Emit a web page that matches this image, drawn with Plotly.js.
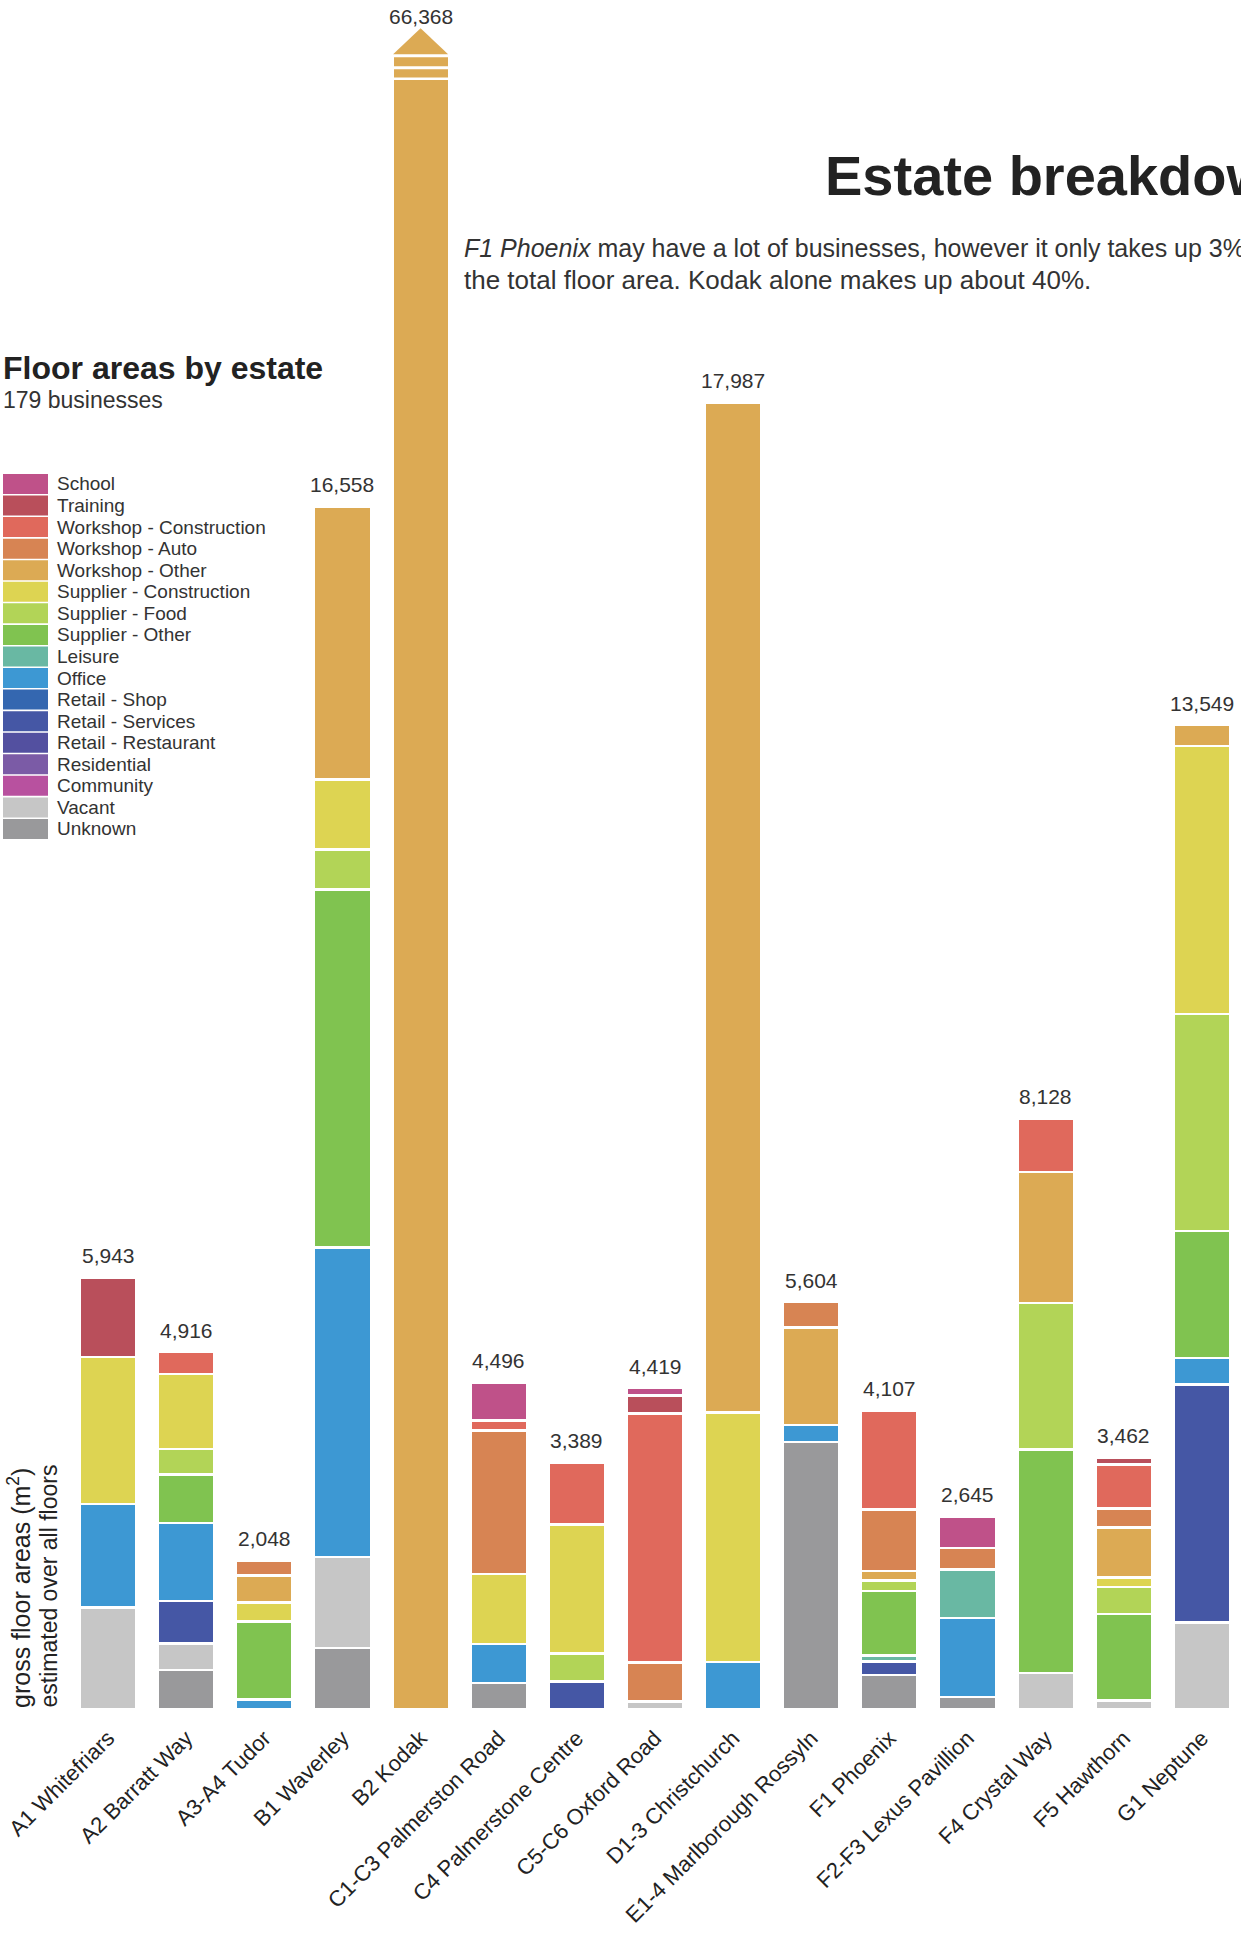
<!DOCTYPE html>
<html>
<head>
<meta charset="utf-8">
<script src="https://cdn.plot.ly/plotly-3.0.1.min.js"></script>
<style>
html,body{margin:0;padding:0;background:#fff;}
#chart{width:1241px;height:1937px;}
</style>
</head>
<body>
<div id="chart"></div>
<script>
// ---------- DATA ----------
const estates = ["A1 Whitefriars","A2 Barratt Way","A3-A4 Tudor","B1 Waverley","B2 Kodak",
  "C1-C3 Palmerston Road","C4 Palmerstone Centre","C5-C6 Oxford Road","D1-3 Christchurch",
  "E1-4 Marlborough Rossyln","F1 Phoenix","F2-F3 Lexus Pavillion","F4 Crystal Way","F5 Hawthorn","G1 Neptune"];

// legend order (top to bottom); stacking order is the reverse
const categories = ["School","Training","Workshop - Construction","Workshop - Auto","Workshop - Other",
  "Supplier - Construction","Supplier - Food","Supplier - Other","Leisure","Office","Retail - Shop",
  "Retail - Services","Retail - Restaurant","Residential","Community","Vacant","Unknown"];

const colors = ["#bf5189","#b94f5b","#e0695c","#d78453","#dcaa54","#ddd452","#b2d457","#80c350",
  "#69b8a3","#3d98d3","#3467b0","#4557a5","#5350a0","#7b5ba6","#b8519f","#c6c6c6","#99999b"];

//                  A1    A2    A3    B1    B2     C1    C4    C5    D1     E1    F1    F2    F4    F5    G1
const school      = [0,    0,    0,    0,    0,     522,  0,    102,  0,     0,    0,    427,  0,    0,    0];
const training    = [1096, 0,    0,    0,    0,     0,    0,    244,  0,     0,    0,    0,    0,    97,   0];
const wsConstr    = [0,    305,  0,    0,    0,     138,  850,  3436, 0,     0,    1361, 0,    733,  608,  0];
const wsAuto      = [0,    0,    210,  0,    0,     1978, 0,    532,  0,     354,  846,  297,  0,    255,  0];
const wsOther     = [0,    0,    372,  3762, 66368, 0,    0,    0,    13905, 1341, 130,  0,    1806, 695,  289];
const supConstr   = [2022, 1030, 257,  963,  0,     964,  1776, 0,    3432,  0,    0,    0,    0,    125,  3687];
const supFood     = [0,    355,  0,    546,  0,     0,    388,  0,    0,     0,    147,  0,    2014, 375,  2992];
const supOther    = [0,    665,  1079, 4928, 0,     0,    0,    0,    0,     0,    888,  0,    3077, 1192, 1747];
const leisure     = [0,    0,    0,    0,    0,     0,    0,    0,    0,     0,    83,   668,  0,    0,    0];
const office      = [1428, 1076, 130,  4267, 0,     534,  0,    0,    650,   231,  0,    1086, 0,    0,    362];
const retShop     = [0,    0,    0,    0,    0,     0,    0,    0,    0,     0,    0,    0,    0,    0,    0];
const retServices = [0,    586,  0,    0,    0,     0,    375,  0,    0,     0,    186,  0,    0,    0,    3284];
const retRestaur  = [0,    0,    0,    0,    0,     0,    0,    0,    0,     0,    0,    0,    0,    0,    0];
const residential = [0,    0,    0,    0,    0,     0,    0,    0,    0,     0,    0,    0,    0,    0,    0];
const community   = [0,    0,    0,    0,    0,     0,    0,    0,    0,     0,    0,    0,    0,    0,    0];
const vacant      = [1397, 360,  0,    1253, 0,     0,    0,    105,  0,     0,    0,    0,    498,  115,  1188];
const unknown     = [0,    539,  0,    839,  0,     360,  0,    0,    0,     3678, 466,  167,  0,    0,    0];

const seriesValues = [school,training,wsConstr,wsAuto,wsOther,supConstr,supFood,supOther,leisure,
  office,retShop,retServices,retRestaur,residential,community,vacant,unknown];

const brokenEstate = "B2 Kodak";

// ---------- LAYOUT GEOMETRY ----------
const FIG_W = 1241, FIG_H = 1937;
const M = {l: 69, r: 0, t: 54, b: 228};
const PW = FIG_W - M.l - M.r, PH = FIG_H - M.t - M.b;
const px2x = p => (p - M.l) / PW;
const px2y = p => (FIG_H - M.b - p) / PH;
const YMAX = 22790;
const FONT = "Liberation Sans, Arial, Helvetica, sans-serif";

// ---------- TRACES (stack bottom -> top) ----------
const traces = [];
for (let k = categories.length - 1; k >= 0; k--) {
  traces.push({
    type: "bar",
    name: categories[k],
    x: estates,
    y: seriesValues[k].map(v => v > 0 ? v : null),
    marker: {color: colors[k], line: {color: "#ffffff", width: 2.6}},
    hoverinfo: "x+y+name",
    showlegend: false
  });
}

const totals = estates.map((e, i) => seriesValues.reduce((s, arr) => s + arr[i], 0));
const fmt = v => v.toLocaleString("en-US");

const annotations = [];
const shapes = [];

// total labels
estates.forEach((e, i) => {
  if (e === brokenEstate) {
    annotations.push({x: e, xref: "x", y: px2y(17), yref: "paper", text: fmt(totals[i]),
      showarrow: false, xanchor: "center", yanchor: "middle",
      font: {family: FONT, size: 21, color: "#333"}});
  } else {
    annotations.push({x: e, xref: "x", y: totals[i], yref: "y", text: fmt(totals[i]),
      showarrow: false, xanchor: "center", yanchor: "middle", yshift: 22,
      font: {family: FONT, size: 21, color: "#333"}});
  }
});

// broken bar marks for Kodak
const bi = estates.indexOf(brokenEstate);
const hw = 0.352;
[[54, 57.3], [66.3, 69.2], [77.5, 80]].forEach(g => {
  shapes.push({type: "rect", xref: "x", yref: "paper", x0: bi - 0.5, x1: bi + 0.5,
    y0: px2y(g[1]), y1: px2y(g[0]), fillcolor: "#ffffff", line: {width: 0}, layer: "above"});
});
shapes.push({type: "path", xref: "x", yref: "paper",
  path: "M" + (bi - hw) + "," + px2y(54.3) + " L" + (bi + hw) + "," + px2y(54.3) +
        " L" + bi + "," + px2y(28.3) + " Z",
  fillcolor: colors[categories.indexOf("Workshop - Other")], line: {width: 0}, layer: "above"});

// custom legend
const LEG_TOP = 474, LEG_STEP = 21.56, LEG_H = 20;
categories.forEach((c, k) => {
  const top = LEG_TOP + k * LEG_STEP;
  shapes.push({type: "rect", xref: "paper", yref: "paper",
    x0: px2x(3), x1: px2x(48), y0: px2y(top + LEG_H), y1: px2y(top),
    fillcolor: colors[k], line: {width: 0}});
  annotations.push({xref: "paper", yref: "paper", x: px2x(55), y: px2y(top + LEG_H / 2),
    text: c, showarrow: false, xanchor: "left", yanchor: "middle",
    font: {family: FONT, size: 19, color: "#333"}});
});

// titles and notes
annotations.push({xref: "paper", yref: "paper", x: px2x(1), y: px2y(368), text: "<b>Floor areas by estate</b>",
  showarrow: false, xanchor: "left", yanchor: "middle", font: {family: FONT, size: 32, color: "#222"}});
annotations.push({xref: "paper", yref: "paper", x: px2x(1), y: px2y(400), text: "179 businesses",
  showarrow: false, xanchor: "left", yanchor: "middle", font: {family: FONT, size: 23, color: "#333"}});
annotations.push({xref: "paper", yref: "paper", x: px2x(823), y: px2y(175), text: "<b>Estate breakdown</b>",
  showarrow: false, xanchor: "left", yanchor: "middle", font: {family: FONT, size: 56, color: "#222"}});
annotations.push({xref: "paper", yref: "paper", x: px2x(462), y: px2y(248),
  text: "<i>F1 Phoenix</i> may have a lot of businesses, however it only takes up 3% of",
  showarrow: false, xanchor: "left", yanchor: "middle", font: {family: FONT, size: 25, color: "#333"}});
annotations.push({xref: "paper", yref: "paper", x: px2x(462), y: px2y(280),
  text: "the total floor area. Kodak alone makes up about 40%.",
  showarrow: false, xanchor: "left", yanchor: "middle", font: {family: FONT, size: 26, color: "#333"}});

// y axis title (bottom aligned, rotated)
annotations.push({xref: "paper", yref: "paper", x: px2x(19), y: px2y(1710), text: "gross floor areas (m<sup>2</sup>)",
  textangle: -90, showarrow: false, xanchor: "center", yanchor: "bottom",
  font: {family: FONT, size: 25, color: "#222"}});
annotations.push({xref: "paper", yref: "paper", x: px2x(48), y: px2y(1710), text: "estimated over all floors",
  textangle: -90, showarrow: false, xanchor: "center", yanchor: "bottom",
  font: {family: FONT, size: 23, color: "#222"}});

const layout = {
  width: FIG_W, height: FIG_H,
  margin: M,
  paper_bgcolor: "#ffffff", plot_bgcolor: "#ffffff",
  barmode: "stack",
  bargap: 0.274,
  showlegend: false,
  font: {family: FONT, color: "#222"},
  xaxis: {type: "category", range: [-0.5, estates.length - 0.5], tickangle: -45,
    showline: false, showgrid: false, zeroline: false, ticks: "", ticklabelstandoff: 11,
    tickfont: {family: FONT, size: 22, color: "#222"}, fixedrange: true},
  yaxis: {range: [0, YMAX], showticklabels: false, showgrid: false, zeroline: false,
    showline: false, ticks: "", fixedrange: true},
  annotations: annotations,
  shapes: shapes
};

Plotly.newPlot("chart", traces, layout, {displayModeBar: false, staticPlot: true});
</script>
</body>
</html>
